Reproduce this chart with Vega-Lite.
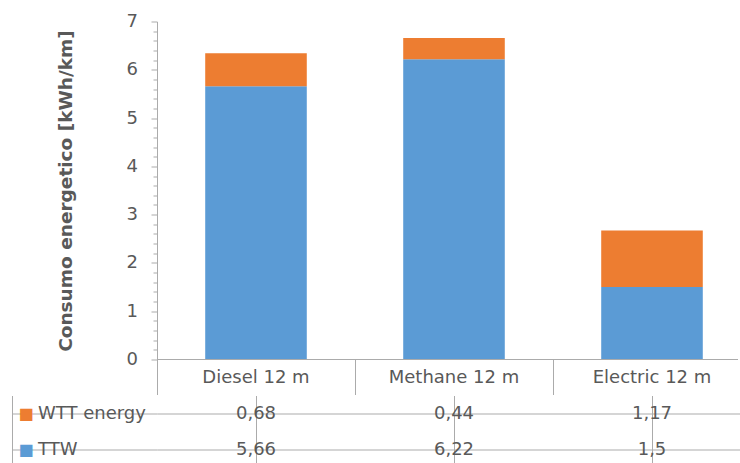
{
  "$schema": "https://vega.github.io/schema/vega-lite/v6.json",
  "background": "white",
  "padding": {"left": 11, "top": 12.5, "right": 0, "bottom": 0},
  "spacing": 0,
  "config": {
    "font": "DejaVu Sans",
    "view": {"stroke": null},
    "locale": {"number": {"decimal": ",", "thousands": ".", "grouping": [3], "currency": ["", " €"]}}
  },
  "datasets": {
    "energy": [
      {"vehicle": "Diesel 12 m", "series": "TTW", "value": 5.66},
      {"vehicle": "Diesel 12 m", "series": "WTT energy", "value": 0.68},
      {"vehicle": "Methane 12 m", "series": "TTW", "value": 6.22},
      {"vehicle": "Methane 12 m", "series": "WTT energy", "value": 0.44},
      {"vehicle": "Electric 12 m", "series": "TTW", "value": 1.5},
      {"vehicle": "Electric 12 m", "series": "WTT energy", "value": 1.17}
    ]
  },
  "vconcat": [
    {
      "width": 581,
      "height": 338,
      "data": {"name": "energy"},
      "layer": [
        {
          "mark": {"type": "bar", "width": {"band": 0.513}},
          "encoding": {
            "x": {
              "field": "vehicle", "type": "nominal",
              "sort": ["Diesel 12 m", "Methane 12 m", "Electric 12 m"],
              "scale": {"range": [0, 594], "paddingInner": 0, "paddingOuter": 0},
              "axis": {
                "title": null, "labelAngle": 0, "domain": false,
                "bandPosition": 0, "tickExtra": false, "tickSize": 35, "tickColor": "#ABABAB",
                "labelPadding": -17.5, "labelBaseline": "middle",
                "labelFontSize": 18, "labelColor": "#595959"
              }
            },
            "y": {
              "field": "value", "type": "quantitative", "stack": "zero",
              "scale": {"domain": [0, 7], "nice": false},
              "axis": {
                "title": "Consumo energetico [kWh/km]",
                "titleFontSize": 18.5, "titleFontWeight": "bold", "titleColor": "#595959",
                "titlePadding": 51,
                "tickCount": 100,
                "tickMinStep": 0.1,
                "values": [0, 0.2, 0.4, 0.6, 0.8, 1, 1.2, 1.4, 1.6, 1.8, 2, 2.2, 2.4, 2.6, 2.8, 3, 3.2, 3.4, 3.6, 3.8, 4, 4.2, 4.4, 4.6, 4.8, 5, 5.2, 5.4, 5.6, 5.8, 6, 6.2, 6.4, 6.6, 6.8, 7],
                "labelExpr": "abs(datum.value - round(datum.value)) < 0.001 ? '' + round(datum.value) : ''",
                "labelOverlap": false,
                "tickSize": {"condition": {"test": "abs(datum.value - round(datum.value)) < 0.001", "value": 6}, "value": 4},
                "grid": false,
                "domainColor": "#ABABAB", "tickColor": "#ABABAB",
                "labelFontSize": 18, "labelColor": "#595959", "labelPadding": 13.5
              }
            },
            "color": {
              "field": "series", "type": "nominal",
              "scale": {"domain": ["WTT energy", "TTW"], "range": ["#ED7D31", "#5B9BD5"]},
              "legend": null
            },
            "order": {"field": "series", "sort": "ascending"}
          }
        },
        {
          "mark": {"type": "rule", "color": "#ABABAB", "strokeWidth": 1},
          "encoding": {"y": {"datum": 0}}
        }
      ]
    },
    {
      "width": 581,
      "height": 67,
      "view": {"stroke": null, "fill": null},
      "data": {"name": "energy"},
      "layer": [
        {
          "mark": {"type": "text", "fontSize": 18, "color": "#595959", "baseline": "middle", "align": "center"},
          "encoding": {
            "x": {
              "field": "vehicle", "type": "nominal",
              "sort": ["Diesel 12 m", "Methane 12 m", "Electric 12 m"],
              "scale": {"range": [0, 594], "paddingInner": 0, "paddingOuter": 0},
              "axis": {"orient": "top", "title": null, "labels": false, "ticks": false, "domain": false, "grid": true, "bandPosition": 0, "tickExtra": false, "gridColor": "#ABABAB", "gridOpacity": 1}
            },
            "y": {
              "field": "series", "type": "nominal",
              "scale": {"domain": ["WTT energy", "TTW"], "range": [0, 72], "paddingInner": 0, "paddingOuter": 0},
              "axis": {
                "orient": "left", "title": null, "domain": false,
                "ticks": true, "tickSize": 145, "bandPosition": 0, "tickExtra": false, "tickColor": "#ABABAB",
                "grid": true, "gridColor": "#ABABAB", "gridOpacity": 1,
                "labelExpr": "'■'",
                "labelColor": {"condition": {"test": "datum.value === 'WTT energy'", "value": "#ED7D31"}, "value": "#5B9BD5"},
                "labelAlign": "left", "labelBaseline": "middle", "labelFontSize": 16, "labelPadding": -6
              }
            },
            "text": {"field": "value", "type": "quantitative", "format": "~g"}
          }
        },
        {
          "mark": {"type": "text", "opacity": 0},
          "encoding": {
            "y": {
              "field": "series", "type": "nominal",
              "scale": {"domain": ["WTT energy", "TTW"], "range": [0, 72], "paddingInner": 0, "paddingOuter": 0},
              "axis": {
                "orient": "left", "title": null, "domain": false, "ticks": false, "tickSize": 0, "grid": false,
                "labelAlign": "left", "labelBaseline": "middle", "labelFontSize": 18, "labelColor": "#595959",
                "labelPadding": 119.5, "labelLimit": 300
              }
            },
            "text": {"field": "value", "type": "quantitative"}
          }
        },
        {
          "mark": {"type": "text", "opacity": 0},
          "encoding": {
            "y": {
              "field": "series", "type": "nominal",
              "scale": {"domain": ["WTT energy", "TTW"], "paddingInner": 0, "paddingOuter": 0},
              "axis": {
                "orient": "left", "offset": 145, "title": null, "domain": true, "domainColor": "#ABABAB",
                "ticks": false, "labels": false, "grid": false
              }
            },
            "text": {"field": "value", "type": "quantitative"}
          }
        }
      ],
      "resolve": {"scale": {"y": "independent"}, "axis": {"y": "independent"}}
    }
  ]
}
